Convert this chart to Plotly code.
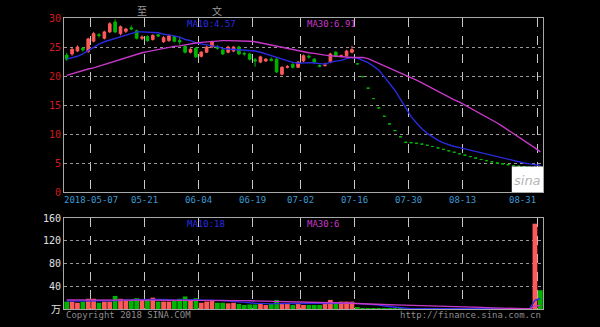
import plotly.graph_objects as go

# ---------------- data ----------------
dates = ['2018-04-26', '2018-04-27',
         '2018-05-02', '2018-05-03', '2018-05-04', '2018-05-07', '2018-05-08', '2018-05-09', '2018-05-10', '2018-05-11',
         '2018-05-14', '2018-05-15', '2018-05-16', '2018-05-17', '2018-05-18', '2018-05-21', '2018-05-22', '2018-05-23',
         '2018-05-24', '2018-05-25', '2018-05-28', '2018-05-29', '2018-05-30', '2018-05-31',
         '2018-06-01', '2018-06-04', '2018-06-05', '2018-06-06', '2018-06-07', '2018-06-08', '2018-06-11', '2018-06-12',
         '2018-06-13', '2018-06-14', '2018-06-15', '2018-06-19', '2018-06-20', '2018-06-21', '2018-06-22', '2018-06-25',
         '2018-06-26', '2018-06-27', '2018-06-28', '2018-06-29',
         '2018-07-02', '2018-07-03', '2018-07-04', '2018-07-05', '2018-07-06', '2018-07-09', '2018-07-10', '2018-07-11',
         '2018-07-12', '2018-07-13', '2018-07-16', '2018-07-17', '2018-07-18', '2018-07-19', '2018-07-20', '2018-07-23',
         '2018-07-24', '2018-07-25', '2018-07-26', '2018-07-27', '2018-07-30', '2018-07-31',
         '2018-08-01', '2018-08-02', '2018-08-03', '2018-08-06', '2018-08-07', '2018-08-08', '2018-08-09', '2018-08-10',
         '2018-08-13', '2018-08-14', '2018-08-15', '2018-08-16', '2018-08-17', '2018-08-20', '2018-08-21', '2018-08-22',
         '2018-08-23', '2018-08-24', '2018-08-27', '2018-08-28', '2018-08-29', '2018-08-30', '2018-08-31']

opens = [23.6, 23.8, 24.3, 24.8, 24.2, 26.0, 27.1, 26.5, 27.6, 29.3,
         27.3, 27.7, 28.3, 27.8, 26.5, 26.8, 26.3, 27.1, 25.9, 26.1,
         26.8, 26.1, 25.1, 24.1, 24.8, 23.4, 24.1, 25.0, 25.0, 24.5,
         24.1, 24.3, 25.0, 23.9, 23.8, 22.8, 22.4, 22.6, 22.9, 22.9,
         20.3, 21.5, 22.0, 21.5, 22.6, 23.4, 22.9, 21.8, 21.8, 22.4,
         24.1, 23.4, 23.5, 24.1, 22.10, 19.89, 17.90, 16.11, 14.50, 13.05,
         11.75, 10.58, 9.52, 8.57, 8.50, 8.40, 8.25, 8.05, 7.85, 7.60,
         7.35, 7.10, 6.85, 6.60, 6.35, 6.10, 5.85, 5.60, 5.40, 5.20,
         5.00, 4.85, 4.70, 4.55, 4.45, 4.35, 4.25, 3.85, 4.30]
highs = [24.0, 24.9, 25.3, 25.0, 26.6, 27.6, 27.4, 27.8, 29.3, 29.8,
         28.7, 28.3, 28.7, 28.0, 27.0, 27.0, 27.2, 27.3, 26.9, 27.1,
         27.0, 26.8, 25.3, 24.8, 25.0, 24.3, 25.2, 26.1, 25.3, 24.6,
         25.2, 25.1, 25.2, 24.2, 24.0, 23.1, 23.5, 23.1, 23.2, 23.1,
         21.7, 21.9, 22.2, 22.6, 23.7, 23.7, 23.1, 22.0, 22.3, 24.0,
         24.3, 23.7, 24.5, 25.2, 22.10, 19.89, 17.90, 16.11, 14.50, 13.05,
         11.75, 10.58, 9.52, 8.57, 8.50, 8.40, 8.25, 8.05, 7.85, 7.60,
         7.35, 7.10, 6.85, 6.60, 6.35, 6.10, 5.85, 5.60, 5.40, 5.20,
         5.00, 4.85, 4.70, 4.55, 4.45, 4.35, 4.25, 4.45, 4.40]
lows = [22.6, 23.5, 24.1, 24.2, 24.0, 25.8, 26.6, 26.3, 27.4, 27.4,
        27.0, 27.4, 27.9, 26.3, 26.2, 25.9, 26.1, 26.7, 25.7, 25.9,
        25.8, 25.4, 23.9, 23.9, 23.1, 23.2, 24.0, 24.8, 24.5, 23.6,
        23.9, 24.1, 23.6, 23.5, 22.7, 21.6, 22.2, 22.4, 22.5, 20.5,
        20.1, 21.3, 21.3, 21.4, 22.4, 23.0, 22.2, 21.5, 21.6, 22.2,
        23.2, 23.2, 23.3, 23.9, 22.10, 19.89, 17.90, 16.11, 14.50, 13.05,
        11.75, 10.58, 9.52, 8.57, 8.50, 8.40, 8.25, 8.05, 7.85, 7.60,
        7.35, 7.10, 6.85, 6.60, 6.35, 6.10, 5.85, 5.60, 5.40, 5.20,
        5.00, 4.85, 4.70, 4.55, 4.45, 4.35, 4.25, 3.78, 4.00]
closes = [22.9, 24.6, 25.0, 24.5, 26.4, 27.3, 27.0, 27.6, 29.0, 27.6,
          28.5, 28.1, 28.1, 26.5, 26.7, 26.1, 27.0, 26.9, 26.6, 26.9,
          26.0, 25.9, 24.1, 24.6, 23.3, 24.1, 25.0, 25.9, 24.8, 23.8,
          25.0, 25.0, 23.8, 23.8, 22.9, 22.6, 23.3, 22.9, 22.7, 20.7,
          21.5, 21.6, 21.5, 22.4, 23.5, 23.3, 22.4, 21.7, 21.9, 23.8,
          23.4, 23.5, 24.3, 24.55, 22.10, 19.89, 17.90, 16.11, 14.50, 13.05,
          11.75, 10.58, 9.52, 8.57, 8.50, 8.40, 8.25, 8.05, 7.85, 7.60,
          7.35, 7.10, 6.85, 6.60, 6.35, 6.10, 5.85, 5.60, 5.40, 5.20,
          5.00, 4.85, 4.70, 4.55, 4.45, 4.35, 4.25, 4.20, 4.10]

volumes = [13, 13, 11, 13, 18, 18, 11, 13, 13, 23,
           18, 16, 16, 19, 16, 16, 20, 13, 13, 13,
           14, 18, 22, 16, 19, 11, 13, 14, 11, 11,
           10, 11, 9, 7, 8, 8, 10, 7, 9, 16,
           10, 9, 7, 10, 7, 7, 7, 7, 10, 16,
           10, 13, 13, 13, 2.0, 0.6, 0.5, 0.4, 0.4, 0.4,
           0.4, 0.4, 0.4, 0.4, 0.4, 0.4, 0.4, 0.4, 0.4, 0.4,
           0.4, 0.4, 0.4, 0.4, 0.4, 0.4, 0.4, 0.4, 0.4, 0.4,
           0.4, 0.4, 0.4, 0.4, 0.4, 0.4, 0.4, 150, 33]

ma10 = [22.9, 23.1, 23.4, 23.8, 24.4, 25.0, 25.5, 25.9, 26.2, 26.4,
        26.75, 27.1, 27.4, 27.6, 27.6, 27.5, 27.5, 27.45, 27.2, 27.1,
        26.9, 26.7, 26.3, 26.1, 25.7, 25.5, 25.3, 25.2, 25.1, 24.75,
        24.65, 24.6, 24.5, 24.45, 24.4, 24.3, 24.1, 23.8, 23.6, 23.3,
        22.9, 22.6, 22.35, 22.2, 22.3, 22.3, 22.25, 22.1, 22.05, 22.4,
        22.55, 22.7, 23.0, 23.2, 23.1, 22.75, 22.3, 21.7, 21.0, 19.9,
        18.8, 17.5, 16.0, 14.4, 13.0, 11.9, 10.9, 10.1, 9.45, 8.9,
        8.47, 8.12, 7.85, 7.66, 7.44, 7.21, 6.97, 6.73, 6.48, 6.24,
        6.0, 5.78, 5.57, 5.36, 5.17, 5.0, 4.84, 4.7, 4.57]
ma30 = [20.1, 20.4, 20.6, 20.9, 21.2, 21.4, 21.7, 21.9, 22.2, 22.5,
        22.8, 23.1, 23.4, 23.7, 24.0, 24.2, 24.4, 24.6, 24.8, 24.9,
        25.1, 25.2, 25.4, 25.5, 25.7, 25.8, 25.9, 26.0, 26.0, 26.1,
        26.1, 26.1, 26.1, 26.0, 26.0, 25.9, 25.7, 25.5, 25.3, 25.1,
        24.9, 24.7, 24.5, 24.4, 24.2, 24.0, 23.9, 23.7, 23.6, 23.5,
        23.4, 23.3, 23.3, 23.2, 23.2, 23.2, 23.0, 22.6, 22.2, 21.8,
        21.4, 21.0, 20.6, 20.2, 19.8, 19.3, 18.8, 18.3, 17.8, 17.3,
        16.8, 16.3, 15.9, 15.5, 15.0, 14.5, 14.0, 13.5, 13.0, 12.5,
        11.9, 11.3, 10.7, 10.1, 9.4, 8.8, 8.2, 7.6, 6.91]

vol_ma10 = [14.0, 14.2, 14.5, 14.8, 15.0, 15.0, 14.8, 14.6, 14.5, 14.6,
            15.1, 15.4, 15.9, 16.5, 16.3, 16.1, 17.0, 17.0, 17.0, 16.0,
            15.6, 15.8, 16.4, 16.1, 16.4, 15.9, 15.2, 15.3, 15.1, 14.9,
            14.5, 13.8, 12.5, 11.6, 10.5, 10.2, 9.9, 9.2, 9.0, 9.5,
            9.5, 9.3, 9.1, 9.4, 9.3, 9.2, 8.9, 8.9, 9.0, 9.0,
            9.0, 9.4, 10.0, 10.3, 9.8, 9.15, 8.5, 7.8, 6.85, 5.3,
            4.3, 3.0, 1.8, 0.5, 0.35, 0.35, 0.35, 0.35, 0.35, 0.35,
            0.35, 0.35, 0.35, 0.35, 0.35, 0.35, 0.35, 0.35, 0.35, 0.35,
            0.35, 0.35, 0.35, 0.35, 0.35, 0.35, 0.35, 15.3, 18.5]
vol_ma30 = [16.0, 16.0, 16.0, 16.0, 16.0, 16.0, 16.0, 16.0, 15.8, 15.8,
            15.7, 15.7, 15.6, 15.6, 15.5, 15.5, 15.5, 15.5, 15.4, 15.4,
            15.4, 15.4, 15.4, 15.3, 15.3, 15.3, 15.3, 15.2, 15.2, 15.2,
            15.1, 15.0, 14.9, 14.7, 14.4, 14.1, 14.0, 13.8, 13.7, 13.5,
            13.2, 13.0, 12.7, 12.4, 12.1, 11.8, 11.3, 11.1, 11.0, 11.1,
            11.0, 10.8, 10.5, 10.4, 9.9, 9.5, 9.1, 8.6, 8.3, 7.9,
            7.6, 7.2, 7.0, 6.7, 6.5, 6.2, 5.9, 5.7, 5.4, 4.9,
            4.5, 4.2, 4.0, 3.7, 3.5, 3.3, 3.0, 2.8, 2.5, 2.0,
            1.6, 1.2, 0.8, 0.4, 0.35, 0.35, 0.35, 5.3, 6.4]

tick_dates = ['2018-05-07', '2018-05-21', '2018-06-04', '2018-06-19', '2018-07-02',
              '2018-07-16', '2018-07-30', '2018-08-13', '2018-08-31']
tick_labels = ['2018-05-07', '05-21', '06-04', '06-19', '07-02', '07-16', '07-30', '08-13', '08-31']
price_ticks = [0, 5, 10, 15, 20, 25, 30]
vol_ticks = [0, 40, 80, 120, 160]
vol_tick_text = ['万', '40', '80', '120', '160']

price_legend = ['MA10:4.57', 'MA30:6.91']
vol_legend = ['MA10:18', 'MA30:6']
top_marks = ['至', '文']
top_mark_dates = ['2018-05-18', '2018-06-07']

# ---------------- styling ----------------
MONO = 'DejaVu Sans Mono'
RED = '#ff5a5a'
GREEN = '#00b400'
BLUE = '#2a2ae0'
MAG = '#c838c8'
GRID_H = '#9a9a9a'
GRID_V = '#c8c8c8'
AXIS = '#a8a8a8'

n = len(dates)
xs = [i + 0.5 for i in range(n)]
tick_idx = [dates.index(d) for d in tick_dates]

# direction of each day (same rule as candlestick: equal O/C -> vs previous close)
up = []
prev = None
state = True
for o, c in zip(opens, closes):
    if c > o:
        state = True
    elif c < o:
        state = False
    elif prev is not None and c != prev:
        state = c > prev
    up.append(state)
    prev = c
vol_colors = [RED if u else GREEN for u in up]

fig = go.Figure()

fig.add_trace(go.Candlestick(
    x=xs, open=opens, high=highs, low=lows, close=closes,
    increasing=dict(line=dict(color=RED, width=1), fillcolor=RED),
    decreasing=dict(line=dict(color=GREEN, width=1), fillcolor=GREEN),
    whiskerwidth=0, xaxis='x', yaxis='y', showlegend=False, hoverinfo='skip'))

fig.add_trace(go.Scatter(x=xs, y=ma10, mode='lines', line=dict(color=BLUE, width=1.4),
                         xaxis='x', yaxis='y', showlegend=False, hoverinfo='skip'))
fig.add_trace(go.Scatter(x=xs, y=ma30, mode='lines', line=dict(color=MAG, width=1.4),
                         xaxis='x', yaxis='y', showlegend=False, hoverinfo='skip'))

fig.add_trace(go.Bar(x=xs, y=volumes, marker=dict(color=vol_colors, line=dict(width=0)),
                     width=0.88, xaxis='x2', yaxis='y2', showlegend=False, hoverinfo='skip'))
fig.add_trace(go.Scatter(x=xs, y=vol_ma10, mode='lines', line=dict(color=BLUE, width=1.4),
                         xaxis='x2', yaxis='y2', showlegend=False, hoverinfo='skip'))
fig.add_trace(go.Scatter(x=xs, y=vol_ma30, mode='lines', line=dict(color=MAG, width=1.4),
                         xaxis='x2', yaxis='y2', showlegend=False, hoverinfo='skip'))

H = 327
T, B = 18, 18
plot_h = H - T - B


def py(pix):
    return (H - B - pix) / plot_h


xcommon = dict(range=[0, n], tickvals=tick_idx, showticklabels=False, ticks='',
               showgrid=True, gridcolor=GRID_V, griddash='dash', gridwidth=1,
               showline=True, linecolor=AXIS, linewidth=1, mirror=True, zeroline=False,
               fixedrange=True)

fig.update_layout(
    width=600, height=H, autosize=False,
    margin=dict(l=64, r=57, t=T, b=B),
    paper_bgcolor='black', plot_bgcolor='black',
    showlegend=False, hovermode=False, bargap=0.1,
    xaxis=dict(domain=[0, 1], anchor='y', rangeslider=dict(visible=False), **xcommon),
    xaxis2=dict(domain=[0, 1], anchor='y2', matches='x', **xcommon),
    yaxis=dict(domain=[py(192), 1], range=[0, 30], tickvals=price_ticks,
               tickfont=dict(family=MONO, size=10, color='#d41a1a'),
               showgrid=True, gridcolor=GRID_H, griddash='dot', gridwidth=1, ticks='',
               showline=True, linecolor=AXIS, linewidth=1, mirror=True, zeroline=False,
               fixedrange=True),
    yaxis2=dict(domain=[0, py(218)], range=[0, 160], tickvals=vol_ticks, ticktext=vol_tick_text,
                tickfont=dict(family=MONO + ', Noto Sans CJK SC', size=10, color='#e0e0e0'),
                showgrid=True, gridcolor=GRID_H, griddash='dot', gridwidth=1, ticks='',
                showline=True, linecolor=AXIS, linewidth=1, mirror=True, zeroline=False,
                fixedrange=True),
)

ann = []
for i, (ti, tl) in enumerate(zip(tick_idx, tick_labels)):
    last = (i == len(tick_idx) - 1)
    ann.append(dict(x=ti, y=py(200), xref='x', yref='paper', text=tl, showarrow=False,
                    xanchor='right' if last else 'center', yanchor='middle',
                    font=dict(family=MONO, size=9, color='#3c9ad2')))

# legends inside panels
ann.append(dict(x=(185 - 64) / 5.382, y=py(24), xref='x', yref='paper', text=price_legend[0],
                showarrow=False, xanchor='left', yanchor='middle',
                font=dict(family=MONO, size=9, color=BLUE)))
ann.append(dict(x=(305 - 64) / 5.382, y=py(24), xref='x', yref='paper', text=price_legend[1],
                showarrow=False, xanchor='left', yanchor='middle',
                font=dict(family=MONO, size=9, color=MAG)))
ann.append(dict(x=(185 - 64) / 5.382, y=py(224), xref='x', yref='paper', text=vol_legend[0],
                showarrow=False, xanchor='left', yanchor='middle',
                font=dict(family=MONO, size=9, color=BLUE)))
ann.append(dict(x=(305 - 64) / 5.382, y=py(224), xref='x', yref='paper', text=vol_legend[1],
                showarrow=False, xanchor='left', yanchor='middle',
                font=dict(family=MONO, size=9, color=MAG)))

# top markers
for d, t in zip(top_mark_dates, top_marks):
    ann.append(dict(x=dates.index(d) + 0.5, y=py(10), xref='x', yref='paper', text=t,
                    showarrow=False, xanchor='center', yanchor='middle',
                    font=dict(family='Noto Sans CJK SC', size=10, color='#9a9a9a')))

# footer
ann.append(dict(x=0, y=py(315), xref='paper', yref='paper', text='Copyright 2018 SINA.COM',
                showarrow=False, xanchor='left', yanchor='middle',
                font=dict(family=MONO, size=9, color='#8c8c8c')))
ann.append(dict(x=1, y=py(315), xref='paper', yref='paper', text='http://finance.sina.com.cn',
                showarrow=False, xanchor='right', yanchor='middle',
                font=dict(family=MONO, size=9, color='#8c8c8c')))

# sina logo box
ann.append(dict(x=86.1, y=1.9, xref='x', yref='y', text='<i>sina</i>', showarrow=False,
                xanchor='center', yanchor='middle',
                font=dict(family='DejaVu Sans', size=13, color='#b4b4b4')))

fig.update_layout(annotations=ann)
fig.add_shape(type='rect', xref='x', yref='y', x0=83.2, x1=n, y0=0, y1=4.4,
              fillcolor='white', line=dict(width=0), layer='above')

fig.write_html('out.html', config={'displayModeBar': False})
